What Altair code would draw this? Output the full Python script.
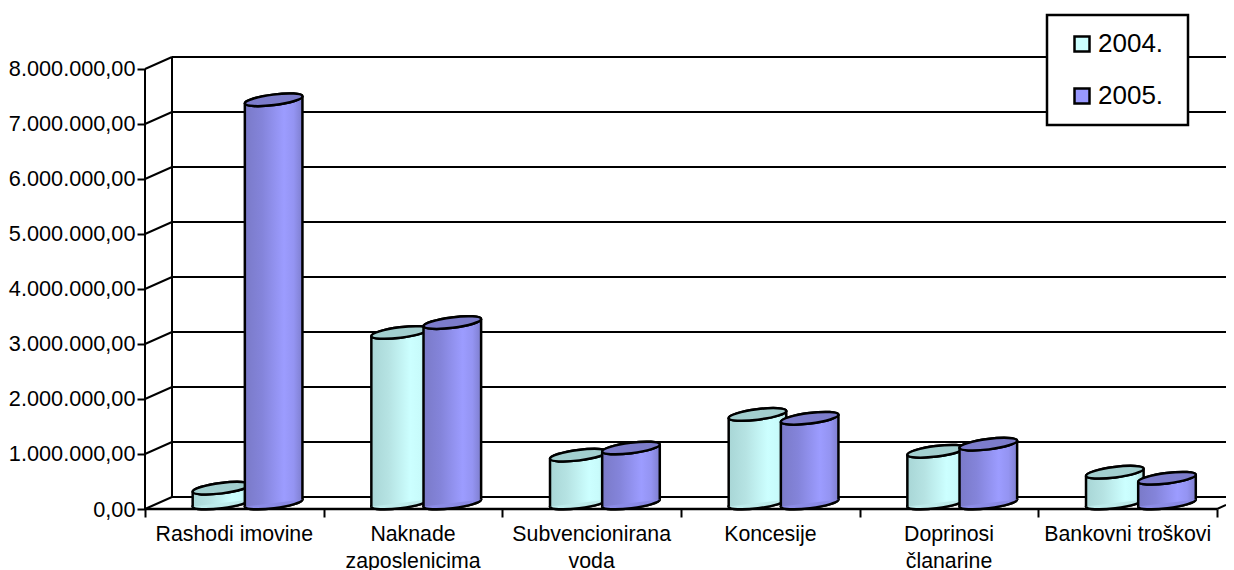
import altair as alt
import pandas as pd

categories = ["Rashodi imovine", "Naknade\nzaposlenicima", "Subvencionirana\nvoda", "Koncesije", "Doprinosi\nčlanarine", "Bankovni troškovi"]
values_2004 = [270000, 3100000, 870000, 1610000, 940000, 560000]
values_2005 = [7330000, 3280000, 1000000, 1540000, 1070000, 450000]
years = ["2004.", "2005."]
tick_values = [0, 1000000, 2000000, 3000000, 4000000, 5000000, 6000000, 7000000, 8000000]
tick_labels = ["0,00", "1.000.000,00", "2.000.000,00", "3.000.000,00", "4.000.000,00", "5.000.000,00", "6.000.000,00", "7.000.000,00", "8.000.000,00"]

FONT = "Liberation Sans"
PLOT_W = 1081
PX_X = 178.67
PX_Y = 55.125 / 1e6
BACK_X = 27 / PX_X
BACK_Y = 12 / PX_Y
BASE_Y = 6 / PX_Y
XMAX = PLOT_W / PX_X
YMAX = 8e6 + BACK_Y
HALF = 28.8 / PX_X
TILT = 3.6 / PX_Y
ELLIPSE = "M-1,0.125 A1,0.18,-7.2,1,1,1,-0.125 A1,0.18,-7.2,1,1,-1,0.125 Z"
xs = alt.Scale(domain=[0, XMAX], nice=False, zero=False)
ys = alt.Scale(domain=[0, YMAX], nice=False, zero=False)

y_axis = alt.Axis(values=tick_values, domain=False, grid=False, tickSize=8, tickWidth=2, tickColor="black",
                  labelFont=FONT, labelFontSize=21.7, labelColor="black", labelPadding=2,
                  labelExpr="[" + ",".join(f"'{t}'" for t in tick_labels) + "][round(datum.value/1000000)]")
x_axis = alt.Axis(values=list(range(7)), domain=False, grid=False, tickSize=8, tickWidth=2, tickColor="black", labels=False)


def X(f):
    return alt.X(f"{f}:Q", scale=xs, title=None, axis=x_axis)


def Y(f):
    return alt.Y(f"{f}:Q", scale=ys, title=None, axis=y_axis)


def grad(stops):
    return {"gradient": "linear", "x1": 0, "x2": 1, "y1": 0, "y2": 0,
            "stops": [{"offset": o, "color": c} for o, c in stops]}


grid = pd.DataFrame({"x": [BACK_X] * len(tick_values), "x2": [XMAX] * len(tick_values),
                     "y": [v + BACK_Y for v in tick_values]})
slant = pd.DataFrame({"x": [0] * len(tick_values) + [6], "x2": [BACK_X] * len(tick_values) + [XMAX],
                      "y": tick_values + [0], "y2": [v + BACK_Y for v in tick_values] + [(XMAX - 6) / BACK_X * BACK_Y]})
frame_v = pd.DataFrame({"x": [0, BACK_X], "y": [0, BACK_Y], "y2": [8e6, YMAX]})
floor = pd.DataFrame({"x": [0], "x2": [6], "y": [0]})

layers = [
    alt.Chart(grid).mark_rule(color="black", strokeWidth=2).encode(x=X("x"), x2="x2:Q", y=Y("y")),
    alt.Chart(slant).mark_rule(color="black", strokeWidth=2).encode(x=X("x"), x2="x2:Q", y=Y("y"), y2="y2:Q"),
    alt.Chart(frame_v).mark_rule(color="black", strokeWidth=2).encode(x=X("x"), y=Y("y"), y2="y2:Q"),
    alt.Chart(floor).mark_rule(color="black", strokeWidth=2.5).encode(x=X("x"), x2="x2:Q", y=Y("y")),
]


def cylinder(vals, off, stops, top, bottom):
    rows = []
    for i, v in enumerate(vals):
        c = i + off
        rows.append({"k": i, "side": "l", "c": c, "x": c - HALF, "b": BASE_Y - TILT, "t": v + BASE_Y - TILT, "cb": BASE_Y, "ct": v + BASE_Y})
        rows.append({"k": i, "side": "r", "c": c, "x": c + HALF, "b": BASE_Y + TILT, "t": v + BASE_Y + TILT, "cb": BASE_Y, "ct": v + BASE_Y})
    df = pd.DataFrame(rows)
    sym = dict(shape=ELLIPSE, size=(2 * 28.8) ** 2, filled=True, stroke="black", strokeWidth=2.5, opacity=1)
    base = alt.Chart(df)
    return [
        base.mark_point(fill=bottom, **sym).encode(x=X("c"), y=Y("cb")),
        base.mark_area(fill=grad(stops), line=False, interpolate="linear").encode(x=X("x"), y=Y("b"), y2="t:Q", detail="k:N"),
        base.mark_rule(color="black", strokeWidth=2.5).encode(x=X("x"), y=Y("b"), y2="t:Q"),
        base.mark_point(fill=top, **sym).encode(x=X("c"), y=Y("ct")),
    ]


layers += cylinder(values_2004, 0.428, [(0, "#A8D6D6"), (0.3, "#B6E3E3"), (0.68, "#CCFFFF"), (0.85, "#C8FBFB"), (1, "#ADD9D9")], "#A2CFCF", "#BDEBEB")
layers += cylinder(values_2005, 0.72, [(0, "#7A7AC8"), (0.3, "#8484DA"), (0.68, "#9C9CFF"), (0.85, "#9494F2"), (1, "#7E7ECE")], "#7C7CCB", "#8B8BE6")

labels = pd.DataFrame({"x": [i + 0.5 for i in range(6)], "y": [0] * 6, "t": categories})
layers.append(alt.Chart(labels).mark_text(font=FONT, fontSize=21.3, color="black", lineBreak="\n", lineHeight=27, baseline="alphabetic", dy=32)
              .encode(x=X("x"), y=Y("y"), text="t:N"))

# legend frame
layers.append(alt.Chart(pd.DataFrame({"a": [0]})).mark_rect(fill="white", stroke="black", strokeWidth=2.5)
              .encode(x=alt.value(902), x2=alt.value(1043), y=alt.value(-42), y2=alt.value(68)))
legend_df = pd.DataFrame({"x": [0, 0], "y": [0, 0], "year": years})
layers.append(alt.Chart(legend_df).mark_point(filled=True, shape="square", size=0).encode(
    x=X("x"), y=Y("y"),
    color=alt.Color("year:N", scale=alt.Scale(domain=years, range=["#CCFFFF", "#9999FF"]),
                    legend=alt.Legend(orient="none", legendX=924, legendY=-26, title=None, symbolType="square", symbolSize=225,
                                      symbolStrokeColor="black", symbolStrokeWidth=2.5, symbolOpacity=1, labelFont=FONT, labelFontSize=26,
                                      labelColor="black", rowPadding=26, labelOffset=3, padding=0))))

chart = alt.layer(*layers).properties(
    width=PLOT_W, height=452, autosize="none",
    padding={"left": 137, "top": 49, "right": 0, "bottom": 61},
).configure_view(stroke=None)

chart.save("out.html", embed_options={"renderer": "svg", "actions": False})
